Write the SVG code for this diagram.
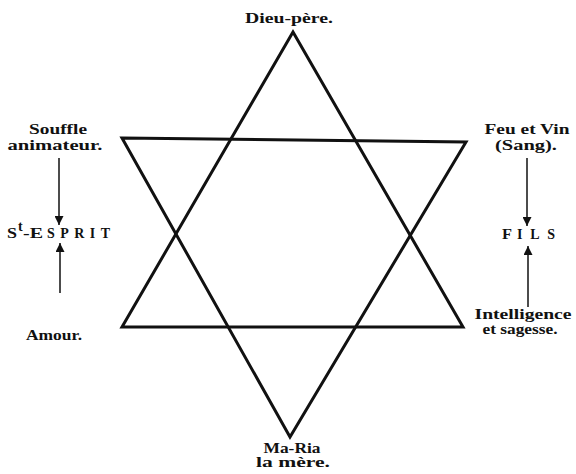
<svg xmlns="http://www.w3.org/2000/svg" width="576" height="474" viewBox="0 0 576 474">
<style>
.t{font-family:"Liberation Serif","DejaVu Serif",serif;font-weight:bold;font-size:14px;fill:#111}
.ln{fill:none;stroke:#111;stroke-width:3;stroke-linejoin:miter}
.ar{stroke:#111;stroke-width:1.5;fill:none}
</style>
<defs>
<marker id="ah" viewBox="0 0 10 10" refX="10" refY="5" markerWidth="11" markerHeight="9" markerUnits="userSpaceOnUse" orient="auto">
<path d="M0,0 L10,5 L0,10 z" fill="#111"/>
</marker>
</defs>
<rect width="576" height="474" fill="#fff"/>
<g id="star">
<polygon class="ln" points="293,32 463,327 122,327"/>
<polygon class="ln" points="122,138 466,142 290,437"/>
</g>
<g id="connectors">
<line class="ar" x1="59" y1="158" x2="59" y2="225" marker-end="url(#ah)"/>
<line class="ar" x1="60" y1="293" x2="60" y2="243" marker-end="url(#ah)"/>
<line class="ar" x1="527" y1="158" x2="527" y2="226" marker-end="url(#ah)"/>
<line class="ar" x1="528" y1="307" x2="528" y2="246" marker-end="url(#ah)"/>
</g>
<g id="dieu"><text class="t" x="289" y="23" font-size="14.5" text-anchor="middle" textLength="88" lengthAdjust="spacingAndGlyphs">Dieu-père.</text></g>
<g id="mere">
<text class="t" x="292" y="453" font-size="13" text-anchor="middle" textLength="57" lengthAdjust="spacingAndGlyphs">Ma-Ria</text>
<text class="t" x="293" y="467" font-size="13" text-anchor="middle" textLength="74" lengthAdjust="spacingAndGlyphs">la mère.</text>
</g>
<g id="souffle">
<text class="t" x="58" y="134" text-anchor="middle" textLength="58" lengthAdjust="spacingAndGlyphs">Souffle</text>
<text class="t" x="55" y="150" text-anchor="middle" textLength="95" lengthAdjust="spacingAndGlyphs">animateur.</text>
</g>
<g id="esprit">
<text class="t" x="7" y="238" font-size="15" textLength="10" lengthAdjust="spacingAndGlyphs">S</text>
<text class="t" x="18" y="231" font-size="7.5">t</text>
<text class="t" x="23" y="238" font-size="15" textLength="20" lengthAdjust="spacingAndGlyphs">-E</text>
<text class="t" x="47" y="238" font-size="10.5" textLength="63" lengthAdjust="spacing">SPRIT</text>
</g>
<g id="amour"><text class="t" x="54" y="340" text-anchor="middle" textLength="56" lengthAdjust="spacingAndGlyphs">Amour.</text></g>
<g id="feu">
<text class="t" x="527" y="134" text-anchor="middle" textLength="85" lengthAdjust="spacingAndGlyphs">Feu et Vin</text>
<text class="t" x="526" y="150" text-anchor="middle" textLength="62" lengthAdjust="spacingAndGlyphs">(Sang).</text>
</g>
<g id="fils">
<text class="t" x="502" y="239" font-size="15" textLength="10" lengthAdjust="spacingAndGlyphs">F</text>
<text class="t" x="517" y="239" font-size="10.5" textLength="38" lengthAdjust="spacing">ILS</text>
</g>
<g id="intelligence">
<text class="t" x="523" y="319" font-size="13" text-anchor="middle" textLength="97" lengthAdjust="spacingAndGlyphs">Intelligence</text>
<text class="t" x="520" y="334" font-size="13" text-anchor="middle" textLength="75" lengthAdjust="spacingAndGlyphs">et sagesse.</text>
</g>
</svg>
